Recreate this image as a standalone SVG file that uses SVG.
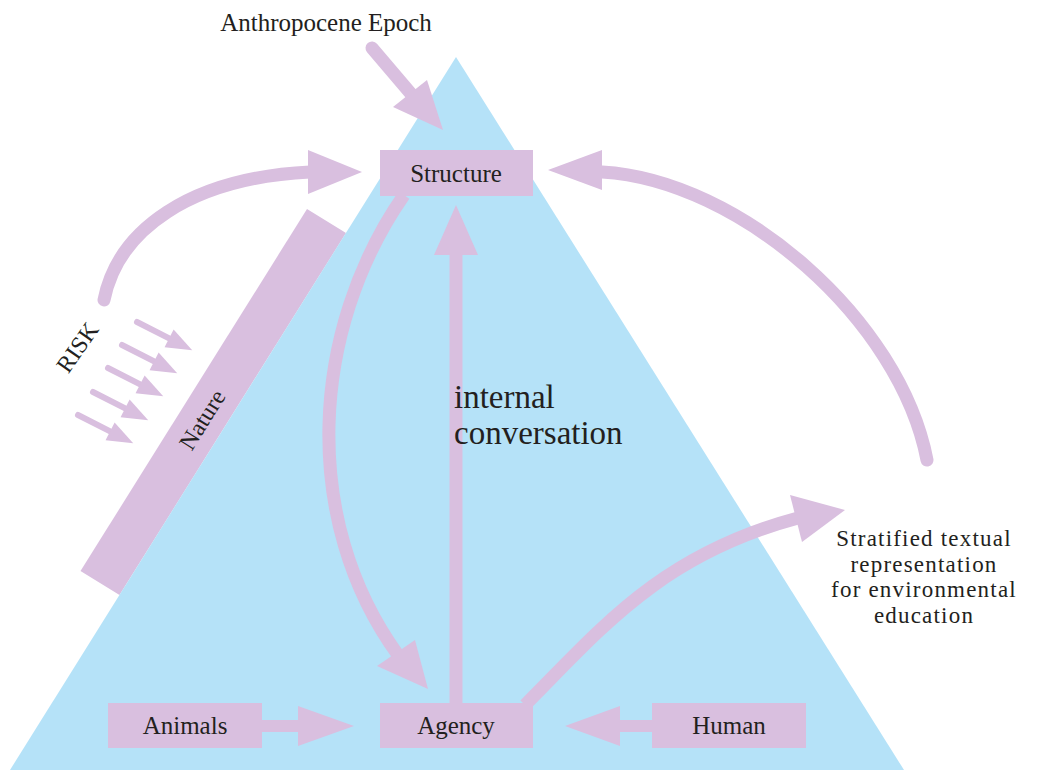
<svg xmlns="http://www.w3.org/2000/svg" width="1045" height="770" viewBox="0 0 1045 770">
<defs>
<style>
.bg{fill:#ffffff}
.tri{fill:#b5e2f8}
.box{fill:#d9bfdf}
.shaft{fill:none;stroke:#d9bfdf;stroke-width:13}
.round{stroke-linecap:round}
.head{fill:#d9bfdf}
.lbl{font-family:"Liberation Serif","Times New Roman",serif;font-size:25px;fill:#231f20;text-anchor:middle}
.big{font-family:"Liberation Serif","Times New Roman",serif;font-size:33px;fill:#231f20}
.strat{font-size:23px;letter-spacing:1.2px}
</style>
<g id="riskArrow">
<line x1="0" y1="0" x2="40" y2="0" stroke="#d9bfdf" stroke-width="6" stroke-linecap="round"/>
<polygon points="36,-10 62,0 36,10" fill="#d9bfdf"/>
</g>
</defs>
<rect class="bg" x="0" y="0" width="1045" height="770"/>
<g id="nature">
<polygon class="box" points="307,209 346,233 119.5,595 80.5,571"/>
<text class="lbl" transform="translate(209,424) rotate(-58)" style="font-size:24px">Nature</text>
</g>
<g id="pyramid">
<polygon class="tri" points="456,57 10,770 904,770"/>
</g>
<g id="connectors">
<line class="shaft round" x1="372" y1="48" x2="412" y2="95"/>
<polygon class="head" points="443,130 393,107 427,80"/>
<path class="shaft round" d="M104,300 C118,230 190,178 310,172"/>
<polygon class="head" points="362,172 308,150 308,194"/>
<path class="shaft round" d="M927,460 C900,320 740,180 602,172"/>
<polygon class="head" points="548,170 602,150 602,190"/>
<path class="shaft" d="M404,195 C310,330 300,520 398,655"/>
<polygon class="head" points="428,689 377,666 415,640"/>
<line class="shaft" x1="456" y1="703" x2="456" y2="253"/>
<polygon class="head" points="456,205 434,255 478,255"/>
<path class="shaft" d="M525,705 C600,630 660,555 798,518"/>
<polygon class="head" points="845,510 790,495 802,542"/>
<rect class="box" x="260" y="720" width="40" height="12"/>
<polygon class="head" points="354,726 298,706 298,746"/>
<rect class="box" x="618" y="720" width="38" height="12"/>
<polygon class="head" points="565,726 620,706 620,746"/>
<use href="#riskArrow" transform="translate(137,322) rotate(27)"/>
<use href="#riskArrow" transform="translate(122,345) rotate(27)"/>
<use href="#riskArrow" transform="translate(108,368) rotate(27)"/>
<use href="#riskArrow" transform="translate(93,392) rotate(27)"/>
<use href="#riskArrow" transform="translate(78,415) rotate(27)"/>
</g>
<g id="anthropocene">
<text class="lbl" x="326" y="31">Anthropocene Epoch</text>
</g>
<g id="risk">
<text class="lbl" transform="translate(84,352) rotate(-55)" style="font-size:24px">RISK</text>
</g>
<g id="structure">
<rect class="box" x="380" y="150" width="153" height="46"/>
<text class="lbl" x="456" y="182">Structure</text>
</g>
<g id="agency">
<rect class="box" x="380" y="703" width="153" height="45"/>
<text class="lbl" x="456" y="734">Agency</text>
</g>
<g id="animals">
<rect class="box" x="108" y="703" width="154" height="45"/>
<text class="lbl" x="185" y="734">Animals</text>
</g>
<g id="human">
<rect class="box" x="652" y="703" width="154" height="45"/>
<text class="lbl" x="729" y="734">Human</text>
</g>
<g id="internal">
<text class="big" x="454" y="408">internal<tspan x="454" y="444">conversation</tspan></text>
</g>
<g id="stratified">
<text class="lbl strat" x="924" y="546">Stratified textual<tspan x="924" y="571.5">representation</tspan><tspan x="924" y="597">for environmental</tspan><tspan x="924" y="622.5">education</tspan></text>
</g>
</svg>
